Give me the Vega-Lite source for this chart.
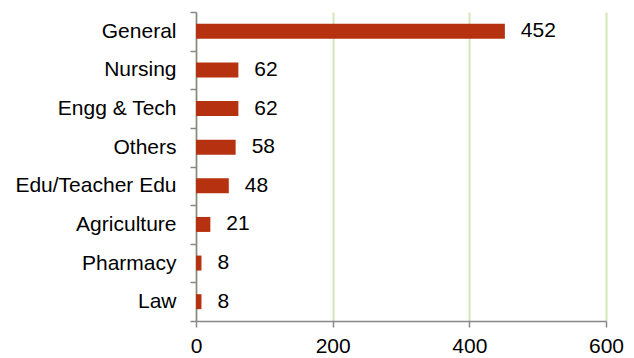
{
  "$schema": "https://vega.github.io/schema/vega-lite/v6.json",
  "autosize": {"type": "none"},
  "padding": {"left": 196, "top": 12, "right": 28, "bottom": 37},
  "width": 410,
  "height": 309,
  "background": "white",
  "config": {"view": {"stroke": null}, "font": "Liberation Sans"},
  "data": {"values": [
    {"category": "General", "value": 452},
    {"category": "Nursing", "value": 62},
    {"category": "Engg & Tech", "value": 62},
    {"category": "Others", "value": 58},
    {"category": "Edu/Teacher Edu", "value": 48},
    {"category": "Agriculture", "value": 21},
    {"category": "Pharmacy", "value": 8},
    {"category": "Law", "value": 8}
  ]},
  "encoding": {
    "y": {
      "field": "category", "type": "nominal",
      "sort": ["General", "Nursing", "Engg & Tech", "Others", "Edu/Teacher Edu", "Agriculture", "Pharmacy", "Law"],
      "scale": {"paddingInner": 0, "paddingOuter": 0},
      "axis": {"title": null, "tickBand": "extent", "domainColor": "#888888", "tickColor": "#888888", "tickSize": 6, "labelPadding": 14, "labelFontSize": 21, "labelColor": "#000000", "labelFont": "Liberation Sans", "grid": false, "domainWidth": 1.5, "tickWidth": 1.5}
    },
    "x": {
      "field": "value", "type": "quantitative",
      "scale": {"domain": [0, 600], "nice": false},
      "axis": {"title": null, "values": [0, 200, 400, 600], "gridColor": "#D4E6B5", "gridWidth": 2, "domainColor": "#888888", "tickColor": "#888888", "tickSize": 6, "labelPadding": 8, "labelFontSize": 21, "labelColor": "#000000", "labelFont": "Liberation Sans", "domainWidth": 1.5, "tickWidth": 1.5, "labelFlush": false}
    }
  },
  "layer": [
    {"mark": {"type": "bar", "size": 15, "color": "#B5310F"}},
    {"mark": {"type": "text", "align": "left", "baseline": "middle", "dx": 16, "fontSize": 21, "color": "#000000", "font": "Liberation Sans"},
     "encoding": {"text": {"field": "value", "type": "quantitative"}}}
  ]
}
